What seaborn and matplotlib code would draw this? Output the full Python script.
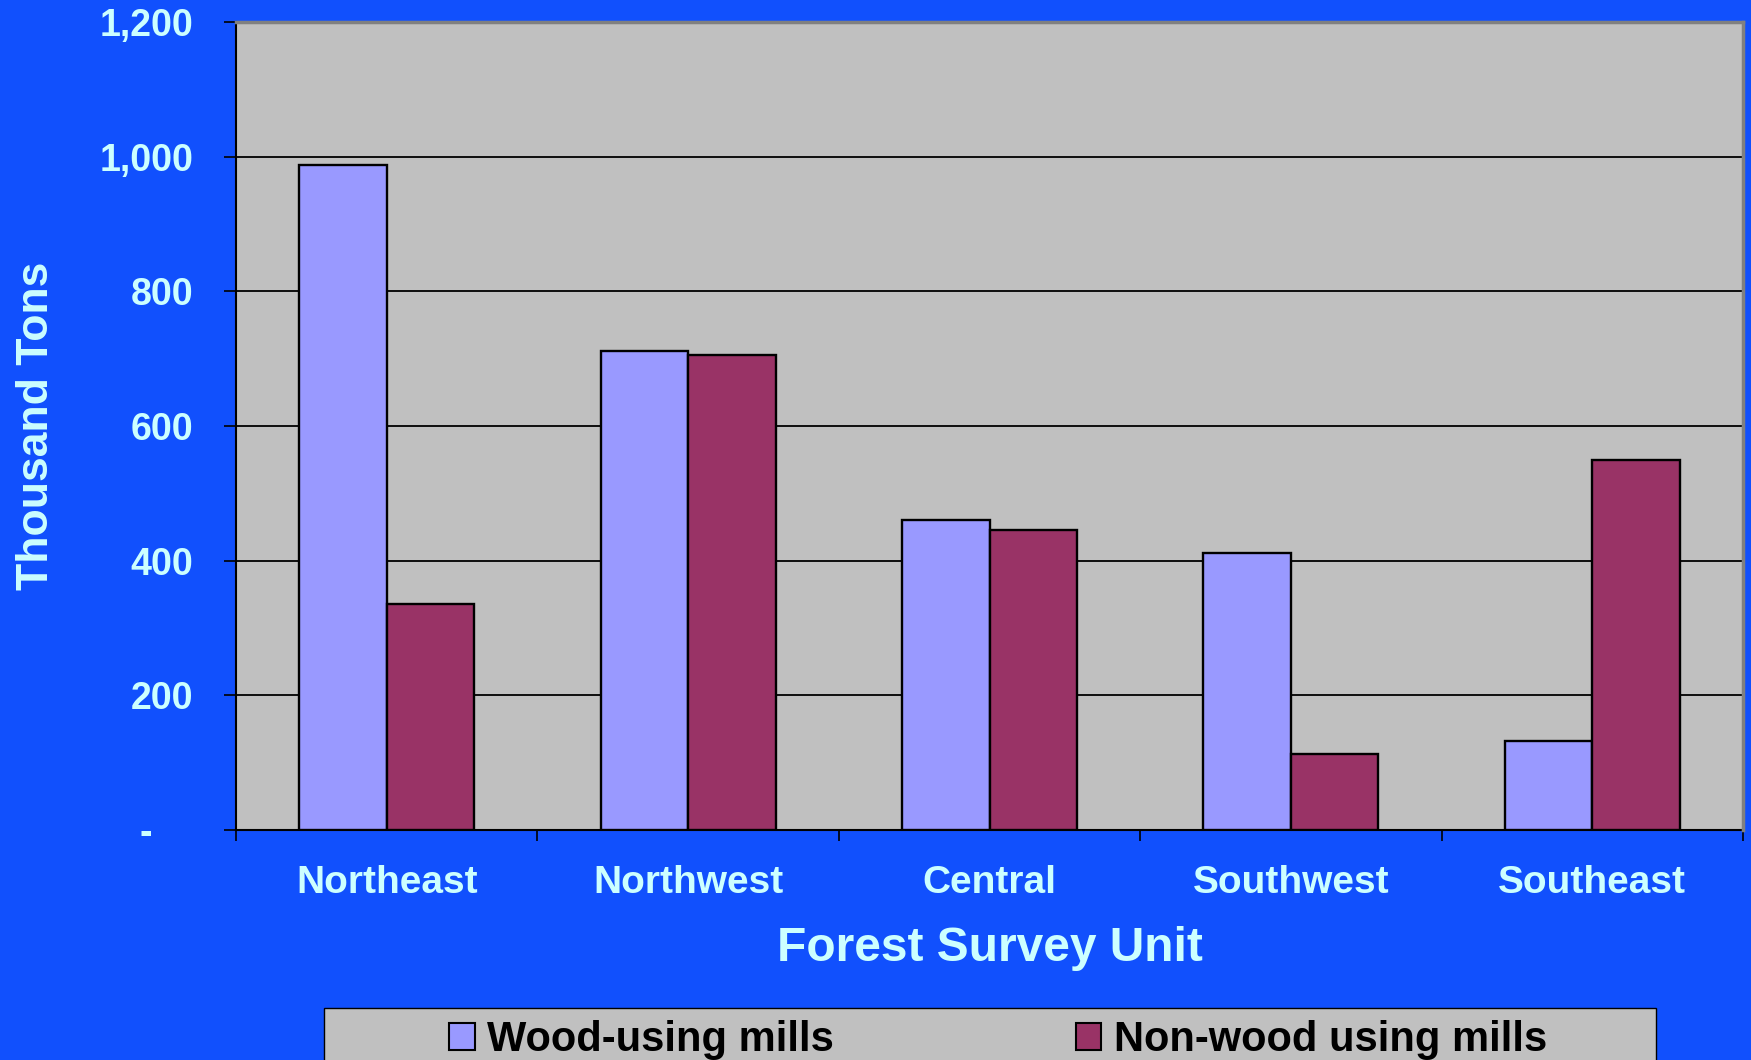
#!/usr/bin/env python3
"""Mill residue by forest survey unit — grouped bar chart, Excel-style blue slide."""

import matplotlib
matplotlib.use("Agg")
import matplotlib.pyplot as plt
from matplotlib.patches import Patch, Rectangle
from matplotlib.ticker import FixedLocator, FuncFormatter
import pandas as pd
import seaborn as sns


# data
REGIONS = ["Northeast", "Northwest", "Central", "Southwest", "Southeast"]
WOOD_USING = [988, 711, 461, 411, 132]
NON_WOOD = [336, 705, 445, 113, 550]
SERIES = ["Wood-using mills", "Non-wood using mills"]
Y_TICKS = [0, 200, 400, 600, 800, 1000, 1200]

BLUE = "#1150FD"
TEXT = "#CCFFFF"
PLOT_BG = "#C0C0C0"
COLORS = {SERIES[0]: "#9999FF", SERIES[1]: "#993366"}

W, H = 1751, 1060  # output pixels


def fmt_tons(v, _pos=None):
    # Excel accounting style: zero shown as a dash, set in from the right
    if v == 0:
        return "-    "
    return f"{v:,.0f}"


sns.set_style("white")
plt.rcParams["font.family"] = ["Liberation Sans", "DejaVu Sans"]
plt.rcParams["font.weight"] = "bold"

df = pd.DataFrame({
    "region": REGIONS * 2,
    "mills": [SERIES[0]] * len(REGIONS) + [SERIES[1]] * len(REGIONS),
    "tons": WOOD_USING + NON_WOOD,
})

fig = plt.figure(figsize=(W / 100, H / 100), dpi=100, facecolor=BLUE)
ax = fig.add_axes([236 / W, 1 - 830 / H, (1743 - 236) / W, (830 - 22) / H])
ax.set_facecolor(PLOT_BG)

sns.barplot(data=df, x="region", y="tons", hue="mills", order=REGIONS,
            hue_order=SERIES, palette=COLORS, width=0.58, gap=0,
            saturation=1, edgecolor="black", linewidth=1.7,
            legend=False, ax=ax, zorder=3)

# axes / grid
ax.set_xlim(-0.5, len(REGIONS) - 0.5)
ax.set_ylim(0, 1200)
ax.yaxis.set_major_locator(FixedLocator(Y_TICKS))
ax.yaxis.set_major_formatter(FuncFormatter(fmt_tons))
ax.set_axisbelow(True)
ax.grid(axis="y", color="black", linewidth=1.3, zorder=0)
ax.grid(axis="x", visible=False)

for side in ("left", "bottom"):
    ax.spines[side].set_color("black")
    ax.spines[side].set_linewidth(1.5)
for side in ("top", "right"):
    ax.spines[side].set_color("#808080")
    ax.spines[side].set_linewidth(2.5)
    ax.spines[side].set_zorder(5)

# category boundaries carry the tick marks; labels sit at the centres
ax.xaxis.set_minor_locator(FixedLocator([i - 0.5 for i in range(len(REGIONS) + 1)]))
ax.tick_params(axis="x", which="minor", length=8, width=1.2, color="black",
               direction="out", bottom=True)
ax.tick_params(axis="x", which="major", length=0, pad=25, labelsize=28,
               labelcolor=TEXT)
ax.tick_params(axis="y", which="major", length=8.6, width=1.2, color="black",
               direction="out", left=True, pad=22, labelsize=27,
               labelcolor=TEXT)

ax.set_xlabel("Forest Survey Unit", fontsize=34.5, color=TEXT, fontweight="bold")
ax.xaxis.set_label_coords(0.5, -0.119)
ax.set_ylabel("Thousand Tons", fontsize=32, color=TEXT, fontweight="bold")
ax.yaxis.set_label_coords(-0.119, 0.5)

# legend box runs off the bottom of the slide
fig.patches.append(Rectangle((324 / W, -0.02), (1656 - 324) / W, 1 - 1008 / H + 0.02,
                             transform=fig.transFigure, facecolor=PLOT_BG,
                             edgecolor="black", linewidth=1.0, zorder=0))
handles = [Patch(facecolor=COLORS[s], edgecolor="black", linewidth=1.5) for s in SERIES]
fig.legend(handles, SERIES, ncol=2, loc="center",
           bbox_to_anchor=(998 / W, 1 - 1040 / H), frameon=False,
           prop={"family": ["Liberation Sans", "DejaVu Sans"], "weight": "bold", "size": 30},
           labelcolor="black", handlelength=0.62, handleheight=0.6,
           handletextpad=0.3, columnspacing=5.8)

fig.savefig("out.png", dpi=100, facecolor=BLUE)
plt.close(fig)
